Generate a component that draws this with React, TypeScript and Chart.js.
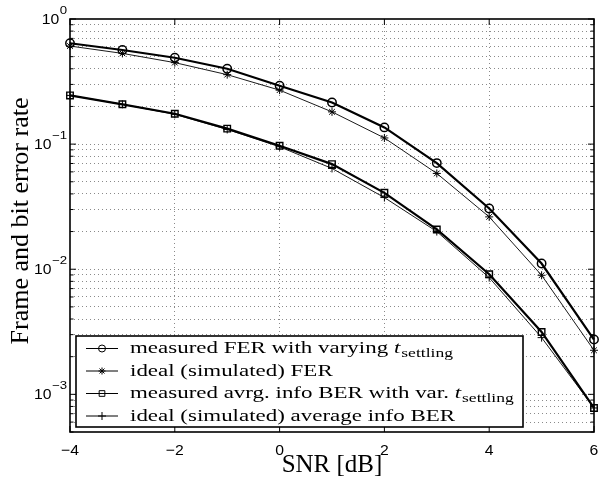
import { useEffect, useRef } from 'react';
import { Chart, registerables } from 'chart.js';
import { drawPoint } from 'chart.js/helpers';

Chart.register(...registerables);

const snr = [-4, -3, -2, -1, 0, 1, 2, 3, 4, 5, 6];
const measuredFER = [0.64, 0.565, 0.49, 0.4, 0.293, 0.215, 0.136, 0.0705, 0.0306, 0.0111, 0.00274];
const idealFER = [0.608, 0.531, 0.448, 0.359, 0.27, 0.181, 0.112, 0.0583, 0.0262, 0.00895, 0.00225];
const measuredBER = [0.245, 0.208, 0.175, 0.133, 0.097, 0.0692, 0.0408, 0.0208, 0.00912, 0.00315, 0.000778];
const idealBER = [0.245, 0.208, 0.173, 0.131, 0.0952, 0.0639, 0.0374, 0.02, 0.00857, 0.00284, 0.000778];

const xTicks = [-4, -2, 0, 2, 4, 6];
const xTickLabels = ['\u22124', '\u22122', '0', '2', '4', '6'];
const yDecadeExps = [-3, -2, -1, 0];
const yDecadeLabels = ['\u22123', '\u22122', '\u22121', '0'];
const yMin = 5e-4;
const yMax = 1;

const xTitle = 'SNR [dB]';
const yTitle = 'Frame and bit error rate';

const legendMain = [
  'measured FER with varying ',
  'ideal (simulated) FER',
  'measured avrg. info BER with var. ',
  'ideal (simulated) average info BER',
];
const legendItalic = ['t', '', 't', ''];
const legendSub = ['settling', '', 'settling', ''];

const SERIF = '"Liberation Serif", "Times New Roman", serif';
const SANS = '"Liberation Sans", Arial, sans-serif';
const SX = 1.35; // horizontal stretch of the reference legend typography

function buildYTicks() {
  const out: { value: number }[] = [];
  for (let k = -4; k <= 0; k++) {
    for (let m = 1; m <= 9; m++) {
      const v = parseFloat((m * Math.pow(10, k)).toPrecision(3));
      if (v >= yMin - 1e-12 && v <= yMax + 1e-12) out.push({ value: v });
    }
  }
  return out;
}

function isDecade(v: number) {
  const l = Math.log10(v);
  return Math.abs(l - Math.round(l)) < 1e-6;
}

function stretchedText(ctx: CanvasRenderingContext2D, text: string, x: number, y: number, sx: number, align: 'left' | 'center' | 'right') {
  const w = ctx.measureText(text).width * sx;
  let left = x;
  if (align === 'center') left = x - w / 2;
  if (align === 'right') left = x - w;
  ctx.save();
  ctx.translate(left, y);
  ctx.scale(sx, 1);
  ctx.textAlign = 'left';
  ctx.fillText(text, 0, 0);
  ctx.restore();
  return w;
}

const framePlugin = {
  id: 'frameAndLabels',
  beforeDatasetsDraw(chart: any) {
    const { ctx, chartArea: a, scales } = chart;
    const x = scales.x;
    const y = scales.y;
    ctx.save();
    ctx.strokeStyle = '#000';
    ctx.lineWidth = 1;
    const line = (x1: number, y1: number, x2: number, y2: number) => {
      ctx.beginPath();
      ctx.moveTo(x1, y1);
      ctx.lineTo(x2, y2);
      ctx.stroke();
    };
    y.ticks.forEach((t: any) => {
      const py = y.getPixelForValue(t.value);
      const len = isDecade(t.value) ? 6 : 3.5;
      line(a.left, py, a.left + len, py);
      line(a.right, py, a.right - len, py);
    });
    x.ticks.forEach((t: any) => {
      const px = x.getPixelForValue(t.value);
      line(px, a.bottom, px, a.bottom - 6);
      line(px, a.top, px, a.top + 6);
    });
    ctx.lineWidth = 1.6;
    ctx.strokeRect(a.left, a.top, a.right - a.left, a.bottom - a.top);

    // x tick labels
    ctx.fillStyle = '#000';
    ctx.textBaseline = 'middle';
    ctx.font = `15px ${SANS}`;
    xTicks.forEach((v, i) => {
      const px = x.getPixelForValue(v);
      stretchedText(ctx, xTickLabels[i], px, a.bottom + 19, 1.05, 'center');
    });
    // y tick labels with superscripts
    yDecadeExps.forEach((e, i) => {
      const py = y.getPixelForValue(Math.pow(10, e));
      ctx.font = `11px ${SANS}`;
      const expW = ctx.measureText(yDecadeLabels[i]).width * 1.2;
      const right = a.left - 3;
      const expLeft = right - expW;
      stretchedText(ctx, yDecadeLabels[i], expLeft, py - 8, 1.2, 'left');
      ctx.font = `15px ${SANS}`;
      stretchedText(ctx, '10', expLeft - 0.5, py + 1, 1.05, 'right');
    });

    // axis titles
    ctx.textBaseline = 'alphabetic';
    ctx.font = `25px ${SERIF}`;
    stretchedText(ctx, xTitle, (a.left + a.right) / 2, 472, 1.0, 'center');
    ctx.save();
    ctx.translate(28, 221);
    ctx.rotate(-Math.PI / 2);
    ctx.font = `26px ${SERIF}`;
    ctx.textBaseline = 'alphabetic';
    ctx.textAlign = 'center';
    ctx.fillText(yTitle, 0, 0);
    ctx.restore();
    ctx.restore();
  },
  afterDatasetsDraw(chart: any) {
    const { ctx, chartArea: a } = chart;
    ctx.save();
    const bx = a.left + 6;
    const by = 336;
    const bw = 447;
    const bh = 91;
    ctx.fillStyle = '#fff';
    ctx.fillRect(bx, by, bw, bh);
    ctx.strokeStyle = '#000';
    ctx.lineWidth = 1.6;
    ctx.strokeRect(bx, by, bw, bh);
    const rowY = [348.5, 371, 393.5, 416];
    chart.data.datasets.forEach((ds: any, i: number) => {
      const ry = rowY[i];
      ctx.strokeStyle = '#000';
      ctx.lineWidth = 1;
      ctx.beginPath();
      ctx.moveTo(bx + 10, ry);
      ctx.lineTo(bx + 42, ry);
      ctx.stroke();
      ctx.fillStyle = 'rgba(0,0,0,0)';
      drawPoint(ctx, { pointStyle: ds.pointStyle, radius: ds.legendRadius, rotation: 0, borderWidth: 1 } as any, bx + 26, ry);
      ctx.fillStyle = '#000';
      ctx.textBaseline = 'alphabetic';
      ctx.font = `17px ${SERIF}`;
      let tx = bx + 54;
      tx += stretchedText(ctx, legendMain[i], tx, ry + 4.5, SX, 'left');
      if (legendItalic[i]) {
        ctx.font = `italic 17px ${SERIF}`;
        tx += stretchedText(ctx, legendItalic[i], tx, ry + 4.5, SX, 'left') + 1;
        ctx.font = `13px ${SERIF}`;
        stretchedText(ctx, legendSub[i], tx, ry + 8.5, SX, 'left');
      }
    });
    ctx.restore();
  },
};

export default function App() {
  const ref = useRef<HTMLCanvasElement | null>(null);
  useEffect(() => {
    document.body.style.margin = '0';
    const canvas = ref.current;
    if (!canvas) return;
    const gridColor = (c: any) => {
      const scale = c.scale;
      const v = c.tick ? c.tick.value : null;
      if (v === null) return 'rgba(0,0,0,0)';
      if (v === scale.min || v === scale.max) return 'rgba(0,0,0,0)';
      return '#8a8a8a';
    };
    const common = {
      borderColor: '#000',
      pointBackgroundColor: 'rgba(0,0,0,0)',
      pointBorderColor: '#000',
      fill: false,
      tension: 0,
      clip: false,
    };
    const chart = new Chart(canvas, {
      type: 'line',
      data: {
        labels: snr,
        datasets: [
          {
            ...common,
            label: 'measured FER with varying t_settling',
            data: snr.map((v, i) => ({ x: v, y: measuredFER[i] })),
            borderWidth: 2.2,
            pointStyle: 'circle',
            pointRadius: 4.2,
            pointBorderWidth: 1.5,
            legendRadius: 3.5,
          } as any,
          {
            ...common,
            label: 'ideal (simulated) FER',
            data: snr.map((v, i) => ({ x: v, y: idealFER[i] })),
            borderWidth: 0.9,
            pointStyle: 'star',
            pointRadius: 4,
            pointBorderWidth: 1,
            legendRadius: 3.5,
          } as any,
          {
            ...common,
            label: 'measured avrg. info BER with var. t_settling',
            data: snr.map((v, i) => ({ x: v, y: measuredBER[i] })),
            borderWidth: 2.2,
            pointStyle: 'rect',
            pointRadius: 4.6,
            pointBorderWidth: 1.4,
            legendRadius: 4,
          } as any,
          {
            ...common,
            label: 'ideal (simulated) average info BER',
            data: snr.map((v, i) => ({ x: v, y: idealBER[i] })),
            borderWidth: 0.9,
            pointStyle: 'cross',
            pointRadius: 4,
            pointBorderWidth: 1,
            legendRadius: 4,
          } as any,
        ],
      },
      options: {
        responsive: false,
        animation: false,
        devicePixelRatio: 1,
        layout: { padding: { left: 70, right: 6, top: 19, bottom: 48 } },
        plugins: { legend: { display: false }, tooltip: { enabled: false } },
        scales: {
          x: {
            type: 'linear',
            min: -4,
            max: 6,
            afterBuildTicks: (s: any) => {
              s.ticks = xTicks.map((v) => ({ value: v }));
            },
            ticks: { display: false },
            grid: { color: gridColor, lineWidth: 1, drawTicks: false },
            border: { display: false, dash: [1, 3] },
          },
          y: {
            type: 'logarithmic',
            min: yMin,
            max: yMax,
            afterBuildTicks: (s: any) => {
              s.ticks = buildYTicks();
            },
            ticks: { display: false },
            grid: { color: gridColor, lineWidth: 1, drawTicks: false },
            border: { display: false, dash: [1, 3] },
          },
        },
      } as any,
      plugins: [framePlugin],
    });
    return () => chart.destroy();
  }, []);
  return <canvas ref={ref} width={600} height={480} style={{ display: 'block', width: 600, height: 480 }} />;
}
